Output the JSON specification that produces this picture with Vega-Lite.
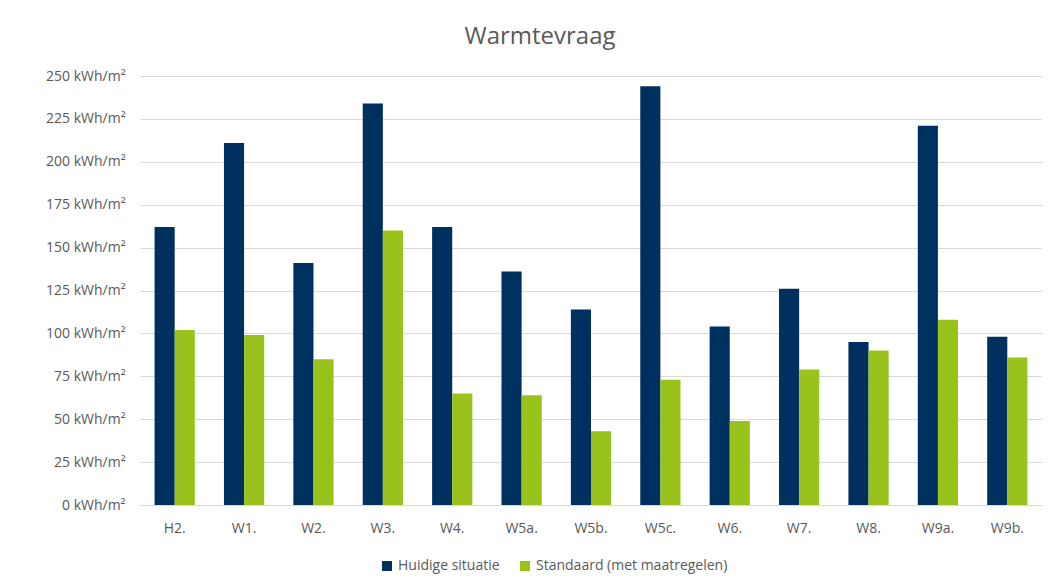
{
  "$schema": "https://vega.github.io/schema/vega-lite/v6.json",
  "autosize": {"type": "none"},
  "width": 902,
  "height": 429,
  "padding": {"left": 140, "top": 76, "right": 18, "bottom": 83},
  "background": "white",
  "title": {"text": "Warmtevraag", "fontSize": 24, "font": "Open Sans", "fontWeight": "normal", "color": "#595959", "dx": -51, "offset": 20},
  "data": {"values": [
    {"wijk": "H2.", "serie": "Huidige situatie", "v": 162},
    {"wijk": "H2.", "serie": "Standaard (met maatregelen)", "v": 102},
    {"wijk": "W1.", "serie": "Huidige situatie", "v": 211},
    {"wijk": "W1.", "serie": "Standaard (met maatregelen)", "v": 99},
    {"wijk": "W2.", "serie": "Huidige situatie", "v": 141},
    {"wijk": "W2.", "serie": "Standaard (met maatregelen)", "v": 85},
    {"wijk": "W3.", "serie": "Huidige situatie", "v": 234},
    {"wijk": "W3.", "serie": "Standaard (met maatregelen)", "v": 160},
    {"wijk": "W4.", "serie": "Huidige situatie", "v": 162},
    {"wijk": "W4.", "serie": "Standaard (met maatregelen)", "v": 65},
    {"wijk": "W5a.", "serie": "Huidige situatie", "v": 136},
    {"wijk": "W5a.", "serie": "Standaard (met maatregelen)", "v": 64},
    {"wijk": "W5b.", "serie": "Huidige situatie", "v": 114},
    {"wijk": "W5b.", "serie": "Standaard (met maatregelen)", "v": 43},
    {"wijk": "W5c.", "serie": "Huidige situatie", "v": 244},
    {"wijk": "W5c.", "serie": "Standaard (met maatregelen)", "v": 73},
    {"wijk": "W6.", "serie": "Huidige situatie", "v": 104},
    {"wijk": "W6.", "serie": "Standaard (met maatregelen)", "v": 49},
    {"wijk": "W7.", "serie": "Huidige situatie", "v": 126},
    {"wijk": "W7.", "serie": "Standaard (met maatregelen)", "v": 79},
    {"wijk": "W8.", "serie": "Huidige situatie", "v": 95},
    {"wijk": "W8.", "serie": "Standaard (met maatregelen)", "v": 90},
    {"wijk": "W9a.", "serie": "Huidige situatie", "v": 221},
    {"wijk": "W9a.", "serie": "Standaard (met maatregelen)", "v": 108},
    {"wijk": "W9b.", "serie": "Huidige situatie", "v": 98},
    {"wijk": "W9b.", "serie": "Standaard (met maatregelen)", "v": 86}
  ]},
  "mark": {"type": "bar"},
  "encoding": {
    "x": {
      "field": "wijk", "type": "nominal", "sort": null,
      "scale": {"paddingInner": 0.42, "paddingOuter": 0.21},
      "axis": {"title": null, "labelAngle": 0, "ticks": false, "domainColor": "#d9d9d9", "labelColor": "#595959", "labelFontSize": 14, "labelPadding": 16, "labelFont": "Open Sans"}
    },
    "xOffset": {"field": "serie", "type": "nominal", "scale": {"paddingInner": 0, "paddingOuter": 0}},
    "y": {
      "field": "v", "type": "quantitative",
      "scale": {"domain": [0, 250], "nice": false},
      "axis": {"title": null, "values": [0, 25, 50, 75, 100, 125, 150, 175, 200, 225, 250], "labelExpr": "datum.value + ' kWh/m²'", "domain": false, "ticks": false, "gridColor": "#d9d9d9", "labelColor": "#595959", "labelFontSize": 14, "labelPadding": 15, "labelFont": "Open Sans"}
    },
    "color": {
      "field": "serie", "type": "nominal",
      "scale": {"domain": ["Huidige situatie", "Standaard (met maatregelen)"], "range": ["#00305f", "#99c31c"]},
      "legend": {"title": null, "orient": "none", "legendX": 240, "legendY": 483, "direction": "horizontal", "symbolType": "square", "symbolSize": 100, "labelColor": "#595959", "labelFontSize": 14, "labelFont": "Open Sans", "labelLimit": 400, "columnPadding": 18}
    }
  },
  "config": {"view": {"stroke": null}}
}
